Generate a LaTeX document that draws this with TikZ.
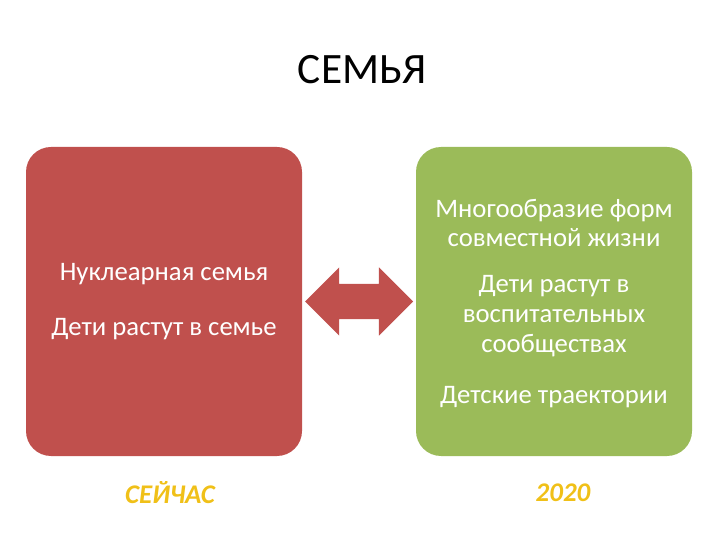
\documentclass[tikz,border=0pt]{standalone}
\usepackage{fontspec}
\setmainfont{Carlito}
\usepackage{tikz}
\usetikzlibrary{calc,shapes.arrows,positioning}
\definecolor{famRed}{RGB}{192,80,77}
\definecolor{famGreen}{RGB}{155,187,89}
\definecolor{famGold}{RGB}{240,192,24}

\begin{document}
\begin{tikzpicture}[x=0.03cm,y=-0.03cm,
    famcard/.style={rounded corners=0.75cm, minimum width=276*0.03cm,
        minimum height=309*0.03cm, inner sep=0pt},
    cardtext/.style={text=white, font=\fontsize{22.8}{24}\selectfont, align=center},
    eratext/.style={text=famGold, font=\fontsize{23}{28}\selectfont\bfseries\itshape}]

    % page
    \useasboundingbox (0,0) rectangle (720,540);

    % title
    \node (title) at (362,70) {\fontsize{37}{40}\selectfont СЕМЬЯ};

    % two cards
    \node[famcard, fill=famRed] (now) at (164,301.5) {};
    \node[famcard, fill=famGreen] (future) at (554,301.5) {};

    % texts on the red card
    \node[cardtext] (nuclear) at (164,274) {Нуклеарная семья};
    \node[cardtext] (infamily) at (164,329) {Дети растут в семье};

    % texts on the green card
    \node[cardtext] (forms) at (554,223) {Многообразие форм\\[1.5pt]совместной жизни};
    \node[cardtext] (communities) at (554,316) {Дети растут в\\[1.5pt]воспитательных\\[1.5pt]сообществах};
    \node[cardtext] (paths) at (554,397) {Детские траектории};

    % double arrow between the cards
    \node[double arrow, fill=famRed, draw=none, inner xsep=0pt,
        inner ysep=17.5*0.03cm, double arrow head extend=16.5*0.03cm,
        minimum height=108*0.03cm] (link) at ($(now.east)!0.5!(future.west)$) {};

    % labels below
    \node[eratext] (nowlabel) at (170,493) {СЕЙЧАС};
    \node[eratext] (futurelabel) at (563,493) {2020};

\end{tikzpicture}
\end{document}
